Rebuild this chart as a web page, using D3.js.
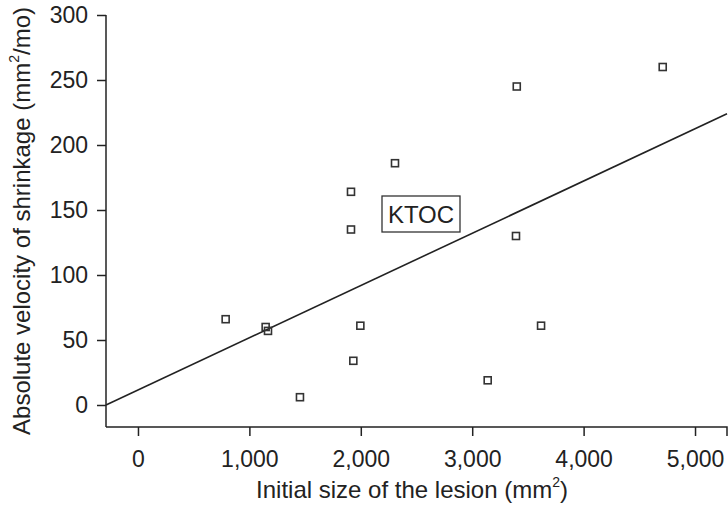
<!DOCTYPE html>
<html lang="en">
<head>
<meta charset="utf-8">
<title>KTOC shrinkage</title>
<script src="https://cdn.jsdelivr.net/npm/d3@7"></script>
<style>
  body { margin: 0; background: #fff; }
  text { font-family: Arial, "Liberation Sans", sans-serif; fill: #222; }
</style>
</head>
<body>
<script>
  var w = 728;
  var h = 513;

  // data
  var sizeX = [787, 1146, 1167, 1454, 1912, 1912, 1933, 1996, 2307, 3139, 3400, 3393, 3618, 4710];
  var velocityY = [66, 60, 57, 6, 135, 164, 34, 61, 186, 19, 245, 130, 61, 260];
  var fitX = [-287, 5287];   // regression line ends
  var fitY = [0, 224];
  var xTicks = [0, 1000, 2000, 3000, 4000, 5000];
  var yTicks = [0, 50, 100, 150, 200, 250, 300];
  var boxLabel = "KTOC";

  var svg = d3.select("body").append("svg")
      .attr("width", w)
      .attr("height", h);

  var x = d3.scaleLinear().domain([-287, 5287]).range([106, 727]);
  var y = d3.scaleLinear().domain([0, 300]).range([405, 15]);
  var yBottom = 427;

  // x axis
  var xAxis = svg.append("g")
      .attr("transform", "translate(0," + yBottom + ")")
      .call(d3.axisBottom(x).tickValues(xTicks).tickSize(9).tickPadding(15)
            .tickFormat(d3.format(",")).tickSizeOuter(9));
  // y axis
  var yAxis = svg.append("g")
      .attr("transform", "translate(106,0)")
      .call(d3.axisLeft(y).tickValues(yTicks).tickSize(9).tickPadding(9).tickSizeOuter(0));

  // stretch y axis line down to the x axis
  yAxis.select(".domain").attr("d", "M0," + y(300) + "V" + yBottom);
  xAxis.select(".domain").attr("d", "M" + x.range()[0] + ",0H" + x.range()[1] + "V9");

  svg.selectAll(".domain, .tick line")
      .attr("stroke", "#222")
      .attr("stroke-width", 1.5);
  svg.selectAll(".tick text")
      .style("font-size", "23px")
      .attr("fill", "#222");

  // titles
  var xt = svg.append("text")
      .attr("x", 412)
      .attr("y", 498)
      .attr("text-anchor", "middle")
      .style("font-size", "24px");
  xt.append("tspan").text("Initial size of the lesion (mm");
  xt.append("tspan").attr("dy", -11).style("font-size", "14px").text("2");
  xt.append("tspan").attr("dy", 11).text(")");

  var yt = svg.append("text")
      .attr("transform", "translate(30,221) rotate(-90)")
      .attr("text-anchor", "middle")
      .style("font-size", "24px");
  yt.append("tspan").text("Absolute velocity of shrinkage (mm");
  yt.append("tspan").attr("dy", -11).style("font-size", "14px").text("2");
  yt.append("tspan").attr("dy", 11).text("/mo)");

  // regression line
  svg.append("line")
      .attr("x1", x(fitX[0]))
      .attr("y1", y(fitY[0]))
      .attr("x2", x(fitX[1]))
      .attr("y2", y(fitY[1]))
      .attr("stroke", "#222")
      .attr("stroke-width", 1.6);

  // points
  svg.selectAll("rect.pt")
      .data(sizeX)
      .enter()
      .append("rect")
      .attr("class", "pt")
      .attr("x", function(d) { return x(d) - 3.5; })
      .attr("y", function(d, i) { return y(velocityY[i]) - 3.5; })
      .attr("width", 7)
      .attr("height", 7)
      .attr("fill", "none")
      .attr("stroke", "#333")
      .attr("stroke-width", 1.6);

  // label box
  svg.append("rect")
      .attr("x", 382)
      .attr("y", 196)
      .attr("width", 78)
      .attr("height", 36)
      .attr("fill", "#fff")
      .attr("stroke", "#333")
      .attr("stroke-width", 1.3);
  svg.append("text")
      .attr("x", 421)
      .attr("y", 223)
      .attr("text-anchor", "middle")
      .style("font-size", "24px")
      .text(boxLabel);
</script>
</body>
</html>
